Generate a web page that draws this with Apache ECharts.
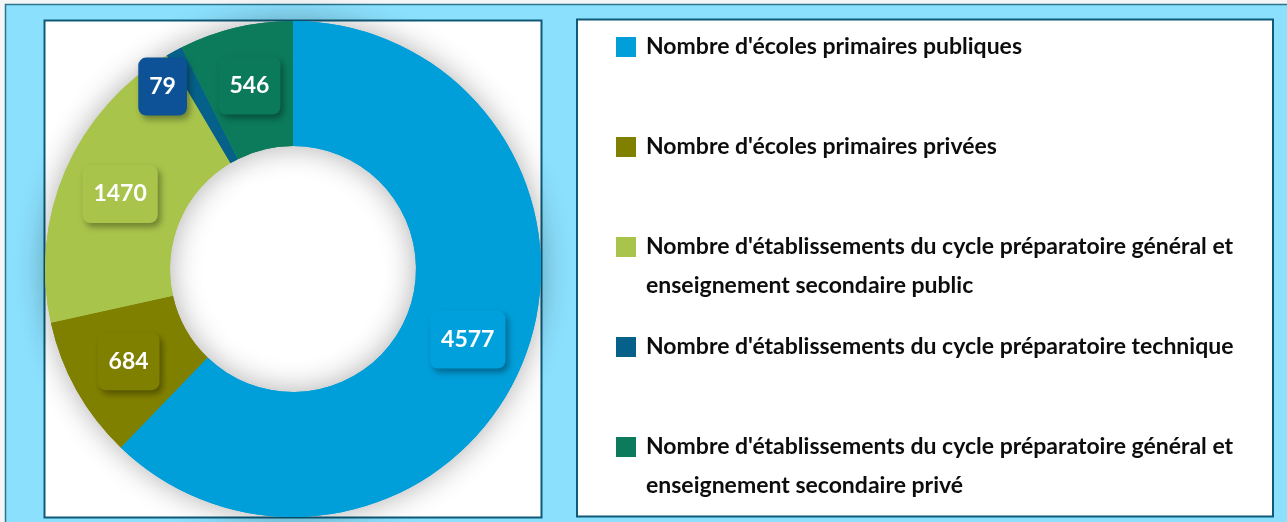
<!DOCTYPE html>
<html>
<head>
<meta charset="utf-8">
<title>Établissements scolaires</title>
<script src="https://cdn.jsdelivr.net/npm/echarts@6/dist/echarts.min.js"></script>
<style>
  html, body { margin: 0; padding: 0; background: #f3f5f6; }
  #chart { width: 1287px; height: 522px; }
</style>
</head>
<body>
<div id="chart"></div>
<script>
// Categories (legend text, "\n" marks where a long label wraps)
const categories = [
  "Nombre d'écoles primaires publiques",
  "Nombre d'écoles primaires privées",
  "Nombre d'établissements du cycle préparatoire général et\nenseignement secondaire public",
  "Nombre d'établissements du cycle préparatoire technique",
  "Nombre d'établissements du cycle préparatoire général et\nenseignement secondaire privé"
];
// Number of establishments per category
const counts = [4577, 684, 1470, 79, 546];

// Palette
const sliceColors = ['#009fda', '#808000', '#a8c44b', '#06618a', '#0b7b5b'];
const labelColors = ['#00a0dc', '#7f7f00', '#a8c44b', '#0d5196', '#0b7a5a'];

const FONT = 'Lato, "Open Sans", sans-serif';
const CENTER = [293, 269];
const RADIUS = [123, 248];

const pieData = categories.map((name, i) => ({
  name: name,
  value: counts[i],
  itemStyle: { color: sliceColors[i] },
  label: { backgroundColor: labelColors[i] }
}));

// Legend built as graphic rows: a colour square and the category text
const legendTop = 47, legendStep = 100, legendLine = 39;
const legendItems = [];
categories.forEach((name, i) => {
  const cy = legendTop + i * legendStep;
  legendItems.push({
    type: 'rect', z: 5,
    shape: { x: 616, y: cy - 10, width: 20, height: 20 },
    style: { fill: sliceColors[i] }
  });
  legendItems.push({
    type: 'text', z: 5, x: 646, y: cy - legendLine / 2,
    style: {
      text: name, fill: '#0d0d0d',
      fontSize: 23, fontWeight: 'bold', fontFamily: FONT,
      lineHeight: legendLine, verticalAlign: 'top', align: 'left'
    }
  });
});

const chart = echarts.init(document.getElementById('chart'), null, { renderer: 'canvas' });
chart.setOption({
  animation: false,
  backgroundColor: 'transparent',
  graphic: [
    // outer light-blue frame
    { type: 'rect', z: -10, shape: { x: 5.5, y: 4.5, width: 1400, height: 600 },
      style: { fill: '#8be0fd', stroke: '#2b7590', lineWidth: 1.5 } },
    // left panel (donut)
    { type: 'rect', z: -9, shape: { x: 44.5, y: 20.5, width: 497, height: 497 },
      style: { fill: '#ffffff', stroke: '#0e5a78', lineWidth: 2 } },
    // right panel (legend)
    { type: 'rect', z: -9, shape: { x: 577, y: 19.5, width: 696, height: 497 },
      style: { fill: '#ffffff', stroke: '#0e5a78', lineWidth: 2 } }
  ].concat(legendItems),
  series: [
    {
      // soft drop shadow under the ring
      type: 'pie', silent: true, z: 1,
      center: CENTER, radius: RADIUS,
      startAngle: 90, clockwise: true,
      label: { show: false }, labelLine: { show: false },
      emphasis: { disabled: true },
      itemStyle: { shadowBlur: 30, shadowColor: 'rgba(0,0,0,0.32)' },
      data: pieData.map(d => ({ name: d.name, value: d.value, itemStyle: d.itemStyle }))
    },
    {
      type: 'pie', z: 2,
      center: CENTER, radius: RADIUS,
      startAngle: 90, clockwise: true,
      avoidLabelOverlap: false,
      emphasis: { disabled: true },
      label: {
        show: true, position: 'inside', formatter: '{c}',
        color: '#ffffff', fontSize: 23, fontWeight: 'bold', fontFamily: FONT,
        lineHeight: 24, padding: [17, 11], borderRadius: 8,
        shadowBlur: 6, shadowOffsetX: 3, shadowOffsetY: 4,
        shadowColor: 'rgba(0,0,0,0.35)'
      },
      labelLine: { show: false },
      labelLayout: function (params) {
        // the thin "technique" slice keeps its label just beside the narrow wedge
        if (params.dataIndex === 3) return { dx: -40, dy: -17 };
        return {};
      },
      data: pieData
    }
  ]
});
</script>
</body>
</html>
